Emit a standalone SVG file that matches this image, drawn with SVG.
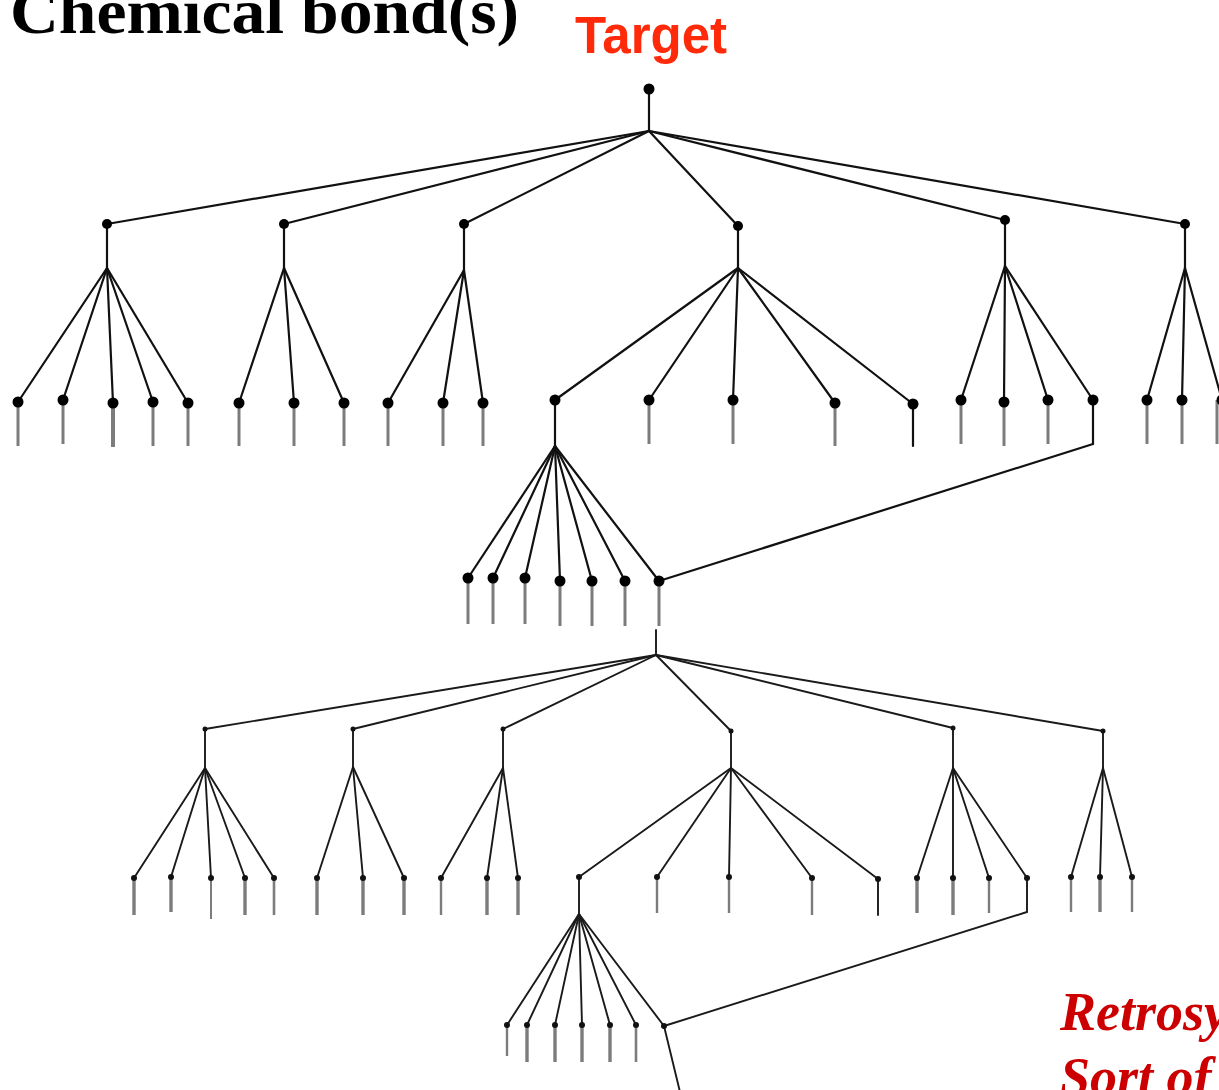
<svg xmlns="http://www.w3.org/2000/svg" width="1219" height="1090" viewBox="0 0 1219 1090">
  <style>
    .edge { stroke: #111; stroke-width: 2.2; fill: none; stroke-linecap: round; }
    .edge2 { stroke: #1a1a1a; stroke-width: 1.9; fill: none; stroke-linecap: round; }
    .stub { stroke: #7c7c7c; stroke-width: 3; fill: none; }
    .stub2 { stroke: #7c7c7c; stroke-width: 3.4; fill: none; }
    .dot { fill: #000; }
    .dot2 { fill: #111; }
    .title { font-family: "Liberation Serif", "Times New Roman", serif; font-weight: bold; fill: #000; }
    .target { font-family: "Liberation Sans", Arial, sans-serif; font-weight: bold; fill: #ff2a0a; }
    .note { font-family: "Liberation Serif", "Times New Roman", serif; font-weight: bold; font-style: italic; fill: #cc0000; }
  </style>

  <rect width="1219" height="1090" fill="#fff"/>

  <text class="title" x="10" y="33" font-size="64" textLength="509" lengthAdjust="spacingAndGlyphs">Chemical bond(s)</text>
  <text class="target" x="575" y="53" font-size="51">Target</text>
  <text class="note" x="1060" y="1030" font-size="54">Retrosy</text>
  <text class="note" x="1060" y="1095" font-size="54">Sort of</text>

  <!-- Connectors: upper tree -->
  <g id="connectors">
    <g id="upper-edges" class="edge">
      <line x1="649" y1="89" x2="649" y2="131"/>
      <line x1="649" y1="131" x2="107" y2="224"/>
      <line x1="649" y1="131" x2="284" y2="224"/>
      <line x1="649" y1="131" x2="464" y2="224"/>
      <line x1="649" y1="131" x2="738" y2="226"/>
      <line x1="649" y1="131" x2="1005" y2="220"/>
      <line x1="649" y1="131" x2="1185" y2="224"/>
      <!-- stems from level-1 nodes to their fans -->
      <line x1="107" y1="224" x2="107" y2="268"/>
      <line x1="284" y1="224" x2="284" y2="268"/>
      <line x1="464" y1="224" x2="464" y2="270"/>
      <line x1="738" y1="226" x2="738" y2="268"/>
      <line x1="1005" y1="220" x2="1005" y2="266"/>
      <line x1="1185" y1="224" x2="1185" y2="268"/>
      <!-- fans -->
      <line x1="107" y1="268" x2="18" y2="402"/>
      <line x1="107" y1="268" x2="63" y2="400"/>
      <line x1="107" y1="268" x2="113" y2="403"/>
      <line x1="107" y1="268" x2="153" y2="402"/>
      <line x1="107" y1="268" x2="188" y2="403"/>
      <line x1="284" y1="268" x2="239" y2="403"/>
      <line x1="284" y1="268" x2="294" y2="403"/>
      <line x1="284" y1="268" x2="344" y2="403"/>
      <line x1="464" y1="270" x2="388" y2="403"/>
      <line x1="464" y1="270" x2="443" y2="403"/>
      <line x1="464" y1="270" x2="483" y2="403"/>
      <line x1="738" y1="268" x2="555" y2="400"/>
      <line x1="738" y1="268" x2="649" y2="400"/>
      <line x1="738" y1="268" x2="733" y2="400"/>
      <line x1="738" y1="268" x2="835" y2="403"/>
      <line x1="738" y1="268" x2="913" y2="404"/>
      <line x1="1005" y1="266" x2="961" y2="400"/>
      <line x1="1005" y1="266" x2="1004" y2="402"/>
      <line x1="1005" y1="266" x2="1048" y2="400"/>
      <line x1="1005" y1="266" x2="1093" y2="400"/>
      <line x1="1185" y1="268" x2="1147" y2="400"/>
      <line x1="1185" y1="268" x2="1182" y2="400"/>
      <line x1="1185" y1="268" x2="1222" y2="400"/>
      <!-- expanded branch -->
      <line x1="555" y1="400" x2="555" y2="446"/>
      <line x1="555" y1="446" x2="468" y2="578"/>
      <line x1="555" y1="446" x2="493" y2="578"/>
      <line x1="555" y1="446" x2="525" y2="578"/>
      <line x1="555" y1="446" x2="560" y2="581"/>
      <line x1="555" y1="446" x2="592" y2="581"/>
      <line x1="555" y1="446" x2="625" y2="581"/>
      <line x1="555" y1="446" x2="659" y2="581"/>
      <line x1="913" y1="404" x2="913" y2="446"/>
      <polyline points="1093,400 1093,444 659,581"/>
    </g>
    <g id="upper-stubs" class="stub">
      <line x1="18" y1="402" x2="18" y2="446"/>
      <line x1="63" y1="400" x2="63" y2="444"/>
      <line x1="113" y1="403" x2="113" y2="447" stroke-width="4"/>
      <line x1="153" y1="402" x2="153" y2="446"/>
      <line x1="188" y1="403" x2="188" y2="446"/>
      <line x1="239" y1="403" x2="239" y2="446"/>
      <line x1="294" y1="403" x2="294" y2="446"/>
      <line x1="344" y1="403" x2="344" y2="446"/>
      <line x1="388" y1="403" x2="388" y2="446"/>
      <line x1="443" y1="403" x2="443" y2="446"/>
      <line x1="483" y1="403" x2="483" y2="446"/>
      <line x1="649" y1="400" x2="649" y2="444"/>
      <line x1="733" y1="400" x2="733" y2="444"/>
      <line x1="835" y1="403" x2="835" y2="446"/>
      <line x1="961" y1="400" x2="961" y2="444"/>
      <line x1="1004" y1="402" x2="1004" y2="446"/>
      <line x1="1048" y1="400" x2="1048" y2="444"/>
      <line x1="1147" y1="400" x2="1147" y2="444"/>
      <line x1="1182" y1="400" x2="1182" y2="444"/>
      <line x1="1217" y1="400" x2="1217" y2="444"/>
      <line x1="468" y1="578" x2="468" y2="624"/>
      <line x1="493" y1="578" x2="493" y2="624"/>
      <line x1="525" y1="578" x2="525" y2="624"/>
      <line x1="560" y1="581" x2="560" y2="626"/>
      <line x1="592" y1="581" x2="592" y2="626"/>
      <line x1="625" y1="581" x2="625" y2="626"/>
      <line x1="659" y1="581" x2="659" y2="626"/>
    </g>

    <!-- Connectors: lower tree -->
    <g id="lower-edges" class="edge2">
      <line x1="656" y1="630" x2="656" y2="655"/>
      <line x1="656" y1="655" x2="205" y2="729"/>
      <line x1="656" y1="655" x2="353" y2="729"/>
      <line x1="656" y1="655" x2="503" y2="729"/>
      <line x1="656" y1="655" x2="731" y2="731"/>
      <line x1="656" y1="655" x2="953" y2="728"/>
      <line x1="656" y1="655" x2="1103" y2="731"/>
      <line x1="205" y1="729" x2="205" y2="768"/>
      <line x1="353" y1="729" x2="353" y2="767"/>
      <line x1="503" y1="729" x2="503" y2="768"/>
      <line x1="731" y1="731" x2="731" y2="768"/>
      <line x1="953" y1="728" x2="953" y2="768"/>
      <line x1="1103" y1="731" x2="1103" y2="768"/>
      <line x1="205" y1="768" x2="134" y2="878"/>
      <line x1="205" y1="768" x2="171" y2="877"/>
      <line x1="205" y1="768" x2="211" y2="878"/>
      <line x1="205" y1="768" x2="245" y2="878"/>
      <line x1="205" y1="768" x2="274" y2="878"/>
      <line x1="353" y1="767" x2="317" y2="878"/>
      <line x1="353" y1="767" x2="363" y2="878"/>
      <line x1="353" y1="767" x2="404" y2="878"/>
      <line x1="503" y1="768" x2="441" y2="878"/>
      <line x1="503" y1="768" x2="487" y2="878"/>
      <line x1="503" y1="768" x2="518" y2="878"/>
      <line x1="731" y1="768" x2="579" y2="877"/>
      <line x1="731" y1="768" x2="657" y2="877"/>
      <line x1="731" y1="768" x2="729" y2="877"/>
      <line x1="731" y1="768" x2="812" y2="878"/>
      <line x1="731" y1="768" x2="878" y2="879"/>
      <line x1="953" y1="768" x2="917" y2="878"/>
      <line x1="953" y1="768" x2="953" y2="878"/>
      <line x1="953" y1="768" x2="989" y2="878"/>
      <line x1="953" y1="768" x2="1027" y2="878"/>
      <line x1="1103" y1="768" x2="1071" y2="877"/>
      <line x1="1103" y1="768" x2="1100" y2="877"/>
      <line x1="1103" y1="768" x2="1132" y2="877"/>
      <line x1="579" y1="877" x2="579" y2="914"/>
      <line x1="579" y1="914" x2="507" y2="1025"/>
      <line x1="579" y1="914" x2="527" y2="1025"/>
      <line x1="579" y1="914" x2="555" y2="1025"/>
      <line x1="579" y1="914" x2="582" y2="1025"/>
      <line x1="579" y1="914" x2="610" y2="1025"/>
      <line x1="579" y1="914" x2="636" y2="1025"/>
      <line x1="579" y1="914" x2="664" y2="1026"/>
      <line x1="878" y1="879" x2="878" y2="915"/>
      <polyline points="1027,878 1027,912 664,1026"/>
      <line x1="664" y1="1026" x2="680" y2="1092"/>
    </g>
    <g id="lower-stubs" class="stub2">
      <line x1="134" y1="878" x2="134" y2="915"/>
      <line x1="171" y1="877" x2="171" y2="912"/>
      <line x1="211" y1="878" x2="211" y2="919" stroke-width="2"/>
      <line x1="245" y1="878" x2="245" y2="915"/>
      <line x1="274" y1="878" x2="274" y2="915" stroke-width="2.6"/>
      <line x1="317" y1="878" x2="317" y2="915"/>
      <line x1="363" y1="878" x2="363" y2="915"/>
      <line x1="404" y1="878" x2="404" y2="915"/>
      <line x1="441" y1="878" x2="441" y2="915" stroke-width="2.4"/>
      <line x1="487" y1="878" x2="487" y2="915"/>
      <line x1="518" y1="878" x2="518" y2="915"/>
      <line x1="657" y1="877" x2="657" y2="913" stroke-width="2.4"/>
      <line x1="729" y1="877" x2="729" y2="913" stroke-width="2.4"/>
      <line x1="812" y1="878" x2="812" y2="915" stroke-width="2.4"/>
      <line x1="917" y1="878" x2="917" y2="913"/>
      <line x1="953" y1="878" x2="953" y2="915"/>
      <line x1="989" y1="878" x2="989" y2="913" stroke-width="2.4"/>
      <line x1="1071" y1="877" x2="1071" y2="912" stroke-width="2.4"/>
      <line x1="1100" y1="877" x2="1100" y2="912"/>
      <line x1="1132" y1="877" x2="1132" y2="912" stroke-width="2.4"/>
      <line x1="507" y1="1025" x2="507" y2="1056" stroke-width="2.4"/>
      <line x1="527" y1="1025" x2="527" y2="1062"/>
      <line x1="555" y1="1025" x2="555" y2="1062"/>
      <line x1="582" y1="1025" x2="582" y2="1062"/>
      <line x1="610" y1="1025" x2="610" y2="1062"/>
      <line x1="636" y1="1025" x2="636" y2="1062" stroke-width="2.6"/>
    </g>
  </g>

  <!-- Upper tree nodes -->
  <g id="target-node"><circle class="dot" cx="649" cy="89" r="5.5"/></g>
  <g id="u-a"><circle class="dot" cx="107" cy="224" r="5"/></g>
  <g id="u-b"><circle class="dot" cx="284" cy="224" r="5"/></g>
  <g id="u-c"><circle class="dot" cx="464" cy="224" r="5"/></g>
  <g id="u-d"><circle class="dot" cx="738" cy="226" r="5"/></g>
  <g id="u-e"><circle class="dot" cx="1005" cy="220" r="5"/></g>
  <g id="u-f"><circle class="dot" cx="1185" cy="224" r="5"/></g>
  <g id="u-a-leaves" class="dot">
    <circle cx="18" cy="402" r="5.5"/><circle cx="63" cy="400" r="5.5"/><circle cx="113" cy="403" r="5.5"/>
    <circle cx="153" cy="402" r="5.5"/><circle cx="188" cy="403" r="5.5"/>
  </g>
  <g id="u-b-leaves" class="dot">
    <circle cx="239" cy="403" r="5.5"/><circle cx="294" cy="403" r="5.5"/><circle cx="344" cy="403" r="5.5"/>
  </g>
  <g id="u-c-leaves" class="dot">
    <circle cx="388" cy="403" r="5.5"/><circle cx="443" cy="403" r="5.5"/><circle cx="483" cy="403" r="5.5"/>
  </g>
  <g id="u-d-leaves" class="dot">
    <circle cx="555" cy="400" r="5.5"/><circle cx="649" cy="400" r="5.5"/><circle cx="733" cy="400" r="5.5"/>
    <circle cx="835" cy="403" r="5.5"/><circle cx="913" cy="404" r="5.5"/>
  </g>
  <g id="u-e-leaves" class="dot">
    <circle cx="961" cy="400" r="5.5"/><circle cx="1004" cy="402" r="5.5"/><circle cx="1048" cy="400" r="5.5"/>
    <circle cx="1093" cy="400" r="5.5"/>
  </g>
  <g id="u-f-leaves" class="dot">
    <circle cx="1147" cy="400" r="5.5"/><circle cx="1182" cy="400" r="5.5"/><circle cx="1222" cy="400" r="5.5"/>
  </g>
  <g id="u-sub-leaves" class="dot">
    <circle cx="468" cy="578" r="5.5"/><circle cx="493" cy="578" r="5.5"/><circle cx="525" cy="578" r="5.5"/>
    <circle cx="560" cy="581" r="5.5"/><circle cx="592" cy="581" r="5.5"/><circle cx="625" cy="581" r="5.5"/>
    <circle cx="659" cy="581" r="5.5"/>
  </g>

  <!-- Lower tree nodes -->
  <g id="l-a"><circle class="dot2" cx="205" cy="729" r="2.5"/></g>
  <g id="l-b"><circle class="dot2" cx="353" cy="729" r="2.5"/></g>
  <g id="l-c"><circle class="dot2" cx="503" cy="729" r="2.5"/></g>
  <g id="l-d"><circle class="dot2" cx="731" cy="731" r="2.5"/></g>
  <g id="l-e"><circle class="dot2" cx="953" cy="728" r="2.5"/></g>
  <g id="l-f"><circle class="dot2" cx="1103" cy="731" r="2.5"/></g>
  <g id="l-leaves" class="dot2">
    <circle cx="134" cy="878" r="3"/><circle cx="171" cy="877" r="3"/><circle cx="211" cy="878" r="3"/>
    <circle cx="245" cy="878" r="3"/><circle cx="274" cy="878" r="3"/>
    <circle cx="317" cy="878" r="3"/><circle cx="363" cy="878" r="3"/><circle cx="404" cy="878" r="3"/>
    <circle cx="441" cy="878" r="3"/><circle cx="487" cy="878" r="3"/><circle cx="518" cy="878" r="3"/>
    <circle cx="579" cy="877" r="3"/><circle cx="657" cy="877" r="3"/><circle cx="729" cy="877" r="3"/>
    <circle cx="812" cy="878" r="3"/><circle cx="878" cy="879" r="3"/>
    <circle cx="917" cy="878" r="3"/><circle cx="953" cy="878" r="3"/><circle cx="989" cy="878" r="3"/>
    <circle cx="1027" cy="878" r="3"/>
    <circle cx="1071" cy="877" r="3"/><circle cx="1100" cy="877" r="3"/><circle cx="1132" cy="877" r="3"/>
  </g>
  <g id="l-sub-leaves" class="dot2">
    <circle cx="507" cy="1025" r="3"/><circle cx="527" cy="1025" r="3"/><circle cx="555" cy="1025" r="3"/>
    <circle cx="582" cy="1025" r="3"/><circle cx="610" cy="1025" r="3"/><circle cx="636" cy="1025" r="3"/>
    <circle cx="664" cy="1026" r="3"/>
  </g>
</svg>
